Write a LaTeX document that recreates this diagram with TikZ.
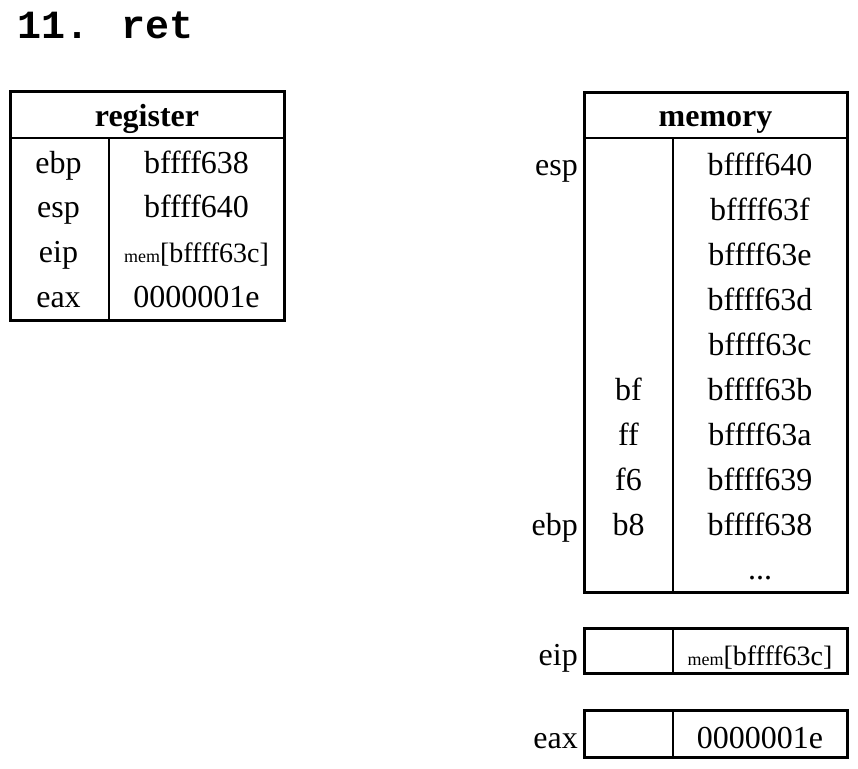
\documentclass[tikz,border=0pt]{standalone}
\usepackage{fontspec}
\setmainfont{Liberation Serif}
\newfontfamily\titlefont{Liberation Mono}
\newcommand\memref[1]{{\fontsize{18}{20}\selectfont mem}{\fontsize{28}{32}\selectfont[#1]}}
\begin{document}
\begin{tikzpicture}[x=1pt,y=-1pt,
  outer/.style={line width=3pt},
  sep/.style={line width=2.6pt},
  inner/.style={line width=1.3pt},
  txt/.style={inner sep=0pt, anchor=base, font=\fontsize{32}{36}\selectfont},
  lbl/.style={txt, anchor=base east},
  hdr/.style={txt, font=\fontsize{32}{36}\selectfont\bfseries}]
\useasboundingbox (0,0) rectangle (858,768);
\node[anchor=base west, inner sep=0pt, font=\fontsize{40}{44}\selectfont\titlefont\bfseries] (title) at (17,39) {11. ret};

% register table
\draw[outer] (10,91) rectangle (284,320);
\draw[sep] (10,138) -- (284,138);
\draw[inner] (109,138) -- (109,320);
\node[hdr] (reghdr) at (147,126) {register};
\foreach \n/\v [count=\i from 0] in {ebp/bffff638, esp/bffff640, eip/\memref{bffff63c}, eax/0000001e}{
  \node[txt] (rn\i) at (58.5,173+44.7*\i) {\n};
  \node[txt] (rv\i) at (196.5,173+44.7*\i) {\v};
}

% memory table
\draw[outer] (584,92) rectangle (847,592);
\draw[sep] (584,138) -- (847,138);
\draw[inner] (673,138) -- (673,592);
\node[hdr] (memhdr) at (715.5,126) {memory};
\foreach \b/\a [count=\i from 0] in {/bffff640, /bffff63f, /bffff63e, /bffff63d, /bffff63c, bf/bffff63b, ff/bffff63a, f6/bffff639, b8/bffff638}{
  \node[txt] (mb\i) at (628.5,175+45*\i) {\b};
  \node[txt] (ma\i) at (760,175+45*\i) {\a};
}
\node[txt] (mdots) at (760,579) {...};
\node[lbl] (lesp) at (578,175) {esp};
\node[lbl] (lebp) at (578,535) {ebp};

% eip box
\draw[outer] (584,628) rectangle (847,673);
\draw[inner] (673,628) -- (673,673);
\node[lbl] (leip) at (578,665) {eip};
\node[txt] (veip) at (760,665) {\memref{bffff63c}};

% eax box
\draw[outer] (584,710) rectangle (847,757);
\draw[inner] (673,710) -- (673,757);
\node[lbl] (leax) at (578,748) {eax};
\node[txt] (veax) at (760,748) {0000001e};
\end{tikzpicture}
\end{document}
